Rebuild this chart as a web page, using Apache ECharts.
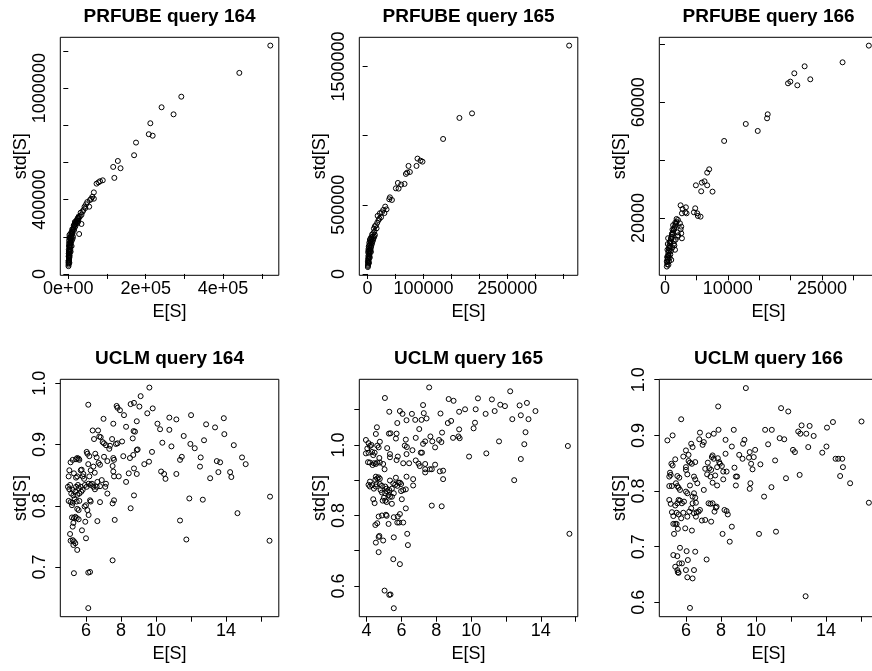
<!DOCTYPE html>
<html><head><meta charset="utf-8">
<script src="https://cdn.jsdelivr.net/npm/echarts@6/dist/echarts.min.js"></script>
<style>html,body{margin:0;padding:0;background:#fff}#c{width:872px;height:671px}</style>
</head><body><div id="c"></div>
<script>
const titles = ['PRFUBE query 164','PRFUBE query 165','PRFUBE query 166','UCLM query 164','UCLM query 165','UCLM query 166'];
const xName = 'E[S]';
const yName = 'std[S]';

const prfube164 = [[522000,1229000],[442000,1082000],[292000,954000],[241000,897000],[272000,859000],[212000,811000],[208000,752000],[218000,744000],[175000,707000],[170000,639000],[128000,608000],[116000,576000],[135000,569000],[119000,517000],[89000,504000],[82000,499000],[78000,493000],[73000,486000],[66000,439000],[66000,405000],[59000,404000],[56000,398000],[49000,387000],[54000,362000],[42000,362000],[39000,344000],[34000,318000],[30000,309000],[27000,300000],[34000,269000],[28000,215000],[22000,282000],[18000,255000],[15000,237000],[11000,219000],[62000,415000],[46000,375000],[44000,355000],[37000,335000],[32000,330000],[25000,295000],[24000,275000],[20000,268000],[26000,285000],
[500,42000],[700,50000],[900,57000],[1100,64000],[1300,72000],[1500,80000],[1700,88000],[1900,95000],[2100,103000],[2300,110000],[2600,118000],[2900,126000],[3200,133000],[3500,141000],[3900,149000],[4300,157000],[4800,165000],[5300,173000],[5900,181000],[6500,189000],[7200,197000],[8000,205000],[8800,212000],[9700,220000],[10600,228000],[11600,236000],[12700,243000],[13900,251000],[15200,259000],[16600,266000],[18100,273000],[19700,281000],[21400,288000],[23200,295000],[25100,302000],[27000,310000],
[800,95000],[1000,110000],[1200,130000],[1500,150000],[1800,165000],[2000,180000],[2500,195000],[3000,210000],[1400,75000],[2200,85000],[3500,100000],[4000,118000],[5000,132000],[6000,150000],[7000,168000],[9000,180000],[12000,200000],[600,70000],[900,62000],[1600,120000],[4500,190000],[5500,215000],[8000,225000],[10000,240000],[14000,262000],[17000,280000],[2800,60000],[3000,90000],[6000,120000],[8500,150000],[11000,190000]];

const prfube165 = [[360700,1651000],[186900,1161000],[164300,1128000],[135100,976000],[89300,834000],[87500,781000],[94600,819000],[98200,812000],[73200,781000],[75600,737000],[68500,723000],[70800,733000],[66100,651000],[60100,646000],[54200,658000],[50600,619000],[55400,617000],[39900,554000],[38700,540000],[43500,535000],[31500,487000],[33900,467000],[28000,463000],[25600,446000],[22000,439000],[19600,390000],[17300,371000],[14900,352000],[11300,328000],[10100,294000],[18000,420000],[24000,410000],[30000,440000],[13000,345000],[21000,400000],[16000,330000],
[400,50000],[600,58000],[800,66000],[1000,75000],[1200,84000],[1500,93000],[1800,102000],[2100,112000],[2500,122000],[2900,132000],[3300,143000],[3800,154000],[4300,165000],[4900,176000],[5500,187000],[6200,198000],[7000,210000],[7800,222000],[8700,234000],[9600,246000],[10600,258000],[11800,270000],[13000,282000],
[600,90000],[900,110000],[1300,130000],[1700,150000],[2200,170000],[2800,190000],[3500,205000],[4500,220000],[5500,235000],[7000,250000],[9000,270000],[1000,160000],[1500,180000],[2000,200000],[3000,225000],[4000,245000],[5000,255000],[6500,265000],[8000,285000],[12000,305000],[2500,80000],[4000,120000],[6000,160000]];

const prfube166 = [[32434,79597],[28254,73833],[22222,72450],[20582,70029],[19947,67147],[19577,66571],[21058,65879],[23122,67954],[16349,55850],[16243,54467],[12857,52507],[14762,50086],[9418,46628],[7037,36830],[6720,35677],[6296,32680],[5873,32219],[6720,31297],[4921,31297],[5767,29222],[7566,29107],[2487,24380],[2804,23112],[3333,23689],[3228,21960],[2698,21614],[3439,21614],[4815,23343],[4603,21960],[5132,21614],[5238,20692],[5661,20461],[1852,19654],[2063,19308],[1640,18386],[2381,18156],[2593,17003],[2487,16081],[2593,14697],[2698,12968],
[300,3200],[350,4000],[380,4800],[420,5600],[450,6400],[500,7200],[550,8000],[600,8800],[650,9600],[700,10400],[780,11200],[850,12000],[950,12800],[1050,13500],[1150,14200],[1250,14900],[1350,15600],[1450,16200],[1550,16800],[1650,17400],[1750,18000],[1850,18600],[2000,15000],[2100,14000],
[500,6000],[600,7000],[700,8500],[800,10000],[900,11500],[1000,13000],[1100,14500],[1200,16000],[1300,17500],[1400,12000],[1500,10500],[550,3800],[650,5000],[750,6200],[850,7400],[950,8600],[1200,9800],[1400,11000],[1700,12500],[2000,13500],[300,5000],[350,6500],[400,9000],[450,11000],[500,13000],[1000,5500],[1600,9000]];

const uclm164 = [[9.62,0.993],[6.13,0.965],[7.75,0.963],[7.80,0.960],[8.55,0.966],[8.74,0.968],[9.12,0.979],[7.94,0.956],[8.17,0.948],[9.05,0.962],[9.50,0.951],[9.81,0.959],[12.00,0.948],[10.76,0.944],[11.16,0.941],[7.00,0.942],[13.87,0.943],[6.38,0.923],[6.69,0.923],[7.56,0.934],[8.29,0.929],[8.90,0.938],[8.72,0.922],[10.08,0.934],[10.23,0.925],[10.76,0.924],[12.86,0.933],[13.37,0.928],[11.58,0.914],[12.74,0.907],[13.90,0.917],[10.36,0.903],[10.88,0.897],[11.96,0.901],[12.21,0.894],[14.44,0.899],[6.46,0.909],[6.76,0.913],[6.84,0.912],[6.95,0.904],[7.03,0.902],[7.14,0.899],[7.33,0.893],[7.37,0.898],[7.49,0.909],[7.71,0.901],[7.80,0.902],[8.06,0.905],[8.67,0.910],[8.80,0.921],[8.90,0.891],[8.95,0.892],[9.77,0.888],[6.04,0.888],[6.08,0.885],[6.19,0.881],[6.53,0.885],[6.61,0.879],[6.72,0.870],[6.80,0.867],[7.03,0.880],[7.22,0.873],[7.56,0.878],[7.60,0.875],[8.13,0.881],[8.51,0.878],[8.70,0.883],[9.60,0.872],[9.33,0.868],[11.47,0.880],[11.37,0.875],[12.55,0.879],[13.47,0.873],[13.66,0.871],[14.91,0.879],[15.12,0.868],[5.05,0.858],[5.12,0.871],[5.24,0.875],[5.43,0.876],[5.50,0.878],[5.58,0.877],[5.62,0.875],[5.01,0.848],[5.09,0.834],[4.97,0.831],[5.05,0.827],[5.31,0.853],[5.43,0.846],[5.50,0.848],[5.70,0.858],[5.81,0.848],[5.85,0.852],[5.75,0.859],[5.89,0.844],[6.19,0.848],[6.27,0.858],[6.13,0.868],[6.42,0.864],[6.50,0.854],[5.94,0.834],[6.04,0.831],[6.15,0.836],[6.27,0.834],[6.34,0.836],[6.42,0.831],[5.70,0.831],[5.58,0.829],[5.24,0.826],[5.16,0.820],[5.28,0.817],[5.39,0.823],[5.50,0.818],[5.62,0.820],[5.73,0.823],[5.81,0.826],[5.43,0.831],[5.54,0.834],[5.01,0.808],[5.12,0.806],[5.24,0.805],[5.35,0.811],[5.20,0.801],[5.47,0.807],[5.62,0.808],[5.50,0.795],[5.58,0.793],[5.92,0.799],[6.00,0.801],[6.23,0.809],[6.27,0.807],[6.08,0.793],[6.15,0.785],[5.96,0.774],[6.65,0.775],[5.20,0.781],[5.31,0.780],[5.39,0.782],[5.47,0.780],[5.58,0.778],[5.28,0.772],[5.24,0.766],[5.77,0.760],[5.09,0.754],[5.12,0.743],[5.24,0.744],[5.31,0.742],[5.28,0.736],[5.39,0.739],[5.50,0.728],[6.00,0.747],[5.31,0.690],[6.13,0.691],[6.23,0.692],[6.13,0.633],[7.52,0.711],[7.64,0.777],[7.52,0.804],[7.60,0.809],[6.80,0.806],[7.22,0.820],[7.10,0.831],[7.14,0.836],[6.80,0.832],[6.90,0.842],[6.65,0.839],[6.51,0.827],[6.61,0.831],[8.29,0.839],[8.44,0.853],[8.55,0.796],[8.74,0.817],[8.74,0.861],[8.90,0.852],[7.87,0.848],[7.56,0.856],[7.60,0.848],[7.52,0.865],[10.29,0.856],[10.46,0.852],[10.54,0.844],[11.16,0.852],[11.37,0.776],[11.73,0.745],[11.90,0.812],[12.67,0.810],[12.51,0.864],[13.09,0.845],[13.56,0.855],[14.23,0.855],[14.30,0.847],[14.65,0.788],[16.51,0.815],[16.48,0.743]];

const uclm165 = [[7.59,1.163],[5.05,1.133],[12.24,1.152],[8.71,1.130],[8.99,1.125],[10.39,1.132],[11.19,1.129],[11.67,1.114],[11.94,1.110],[13.20,1.119],[12.78,1.112],[7.24,1.113],[5.30,1.094],[5.91,1.096],[6.06,1.088],[6.60,1.088],[7.28,1.090],[8.24,1.089],[9.31,1.094],[9.65,1.101],[10.26,1.101],[10.83,1.088],[11.35,1.096],[13.69,1.096],[12.36,1.073],[12.85,1.084],[13.29,1.073],[5.76,1.062],[6.29,1.070],[6.79,1.071],[7.15,1.071],[7.44,1.075],[8.66,1.062],[8.85,1.068],[10.22,1.063],[10.14,1.047],[7.02,1.045],[4.59,1.050],[5.28,1.032],[5.37,1.033],[5.72,1.032],[4.53,1.031],[5.68,1.018],[6.25,1.015],[6.82,1.020],[7.66,1.024],[8.33,1.035],[8.96,1.020],[9.31,1.044],[9.27,1.024],[9.34,1.019],[13.12,1.036],[11.60,1.010],[13.05,1.002],[15.55,0.997],[7.77,1.010],[8.16,1.014],[8.29,1.008],[7.24,1.003],[7.36,1.010],[7.11,0.978],[7.18,0.978],[7.93,0.993],[6.19,0.998],[6.31,0.994],[6.63,0.985],[9.88,0.967],[10.87,0.976],[12.85,0.960],[12.47,0.900],[3.96,1.014],[4.11,1.005],[4.04,0.990],[4.19,0.997],[4.27,1.000],[4.61,0.998],[4.69,0.993],[4.76,1.009],[4.46,0.978],[4.38,0.971],[4.31,0.980],[4.11,0.978],[3.96,0.976],[4.73,0.963],[4.76,0.950],[4.08,0.951],[4.19,0.950],[4.34,0.943],[4.42,0.948],[4.53,0.946],[4.61,0.950],[4.95,0.946],[5.03,0.931],[5.18,0.991],[5.34,0.965],[5.34,0.974],[5.72,0.957],[5.79,0.967],[6.29,0.974],[6.10,0.948],[6.44,0.948],[6.82,0.956],[6.98,0.947],[7.05,0.940],[7.36,0.946],[7.36,0.931],[7.36,0.922],[7.63,0.931],[7.74,0.931],[7.93,0.944],[8.20,0.925],[8.39,0.927],[8.39,0.903],[6.29,0.910],[6.67,0.903],[6.67,0.885],[5.68,0.907],[5.83,0.893],[5.53,0.891],[5.64,0.887],[5.34,0.899],[5.07,0.882],[5.15,0.876],[5.30,0.872],[5.45,0.876],[5.07,0.863],[5.18,0.868],[5.26,0.858],[5.34,0.853],[4.99,0.850],[4.92,0.842],[5.07,0.842],[5.15,0.838],[5.45,0.853],[5.56,0.863],[5.98,0.869],[6.10,0.872],[6.25,0.874],[5.98,0.889],[5.91,0.893],[5.76,0.884],[5.45,0.833],[6.02,0.846],[6.25,0.820],[4.53,0.910],[4.61,0.905],[4.69,0.908],[4.76,0.904],[4.50,0.901],[4.57,0.889],[4.19,0.896],[4.11,0.887],[4.19,0.882],[4.31,0.886],[4.42,0.876],[4.53,0.882],[4.76,0.889],[4.88,0.884],[4.80,0.872],[4.88,0.865],[4.38,0.846],[4.46,0.835],[4.88,0.800],[4.69,0.797],[4.61,0.778],[4.50,0.773],[4.73,0.742],[4.69,0.739],[4.53,0.723],[4.95,0.729],[4.69,0.696],[5.11,0.802],[5.15,0.799],[5.26,0.776],[5.56,0.795],[5.56,0.738],[5.79,0.797],[5.91,0.804],[5.76,0.780],[5.87,0.780],[6.10,0.780],[6.33,0.748],[6.37,0.716],[5.53,0.676],[5.91,0.662],[5.03,0.587],[5.30,0.575],[5.37,0.576],[5.56,0.537],[7.74,0.828],[8.31,0.826],[15.64,0.748]];

const uclm166 = [[9.42,0.985],[7.84,0.952],[5.73,0.929],[11.43,0.949],[11.84,0.943],[16.02,0.925],[14.39,0.924],[14.05,0.914],[12.60,0.918],[13.06,0.917],[12.41,0.907],[12.53,0.903],[12.87,0.903],[13.29,0.899],[12.98,0.879],[11.35,0.895],[11.61,0.893],[12.11,0.874],[12.22,0.870],[13.78,0.869],[14.02,0.880],[14.54,0.858],[14.69,0.858],[14.92,0.858],[14.96,0.843],[14.80,0.827],[15.37,0.814],[16.44,0.779],[12.49,0.829],[11.71,0.823],[11.09,0.855],[10.88,0.807],[10.46,0.790],[10.25,0.848],[10.69,0.884],[10.52,0.910],[10.90,0.910],[10.17,0.723],[11.14,0.727],[12.83,0.611],[9.34,0.892],[9.26,0.885],[8.73,0.910],[8.62,0.880],[8.26,0.892],[9.04,0.865],[9.23,0.858],[9.64,0.870],[9.95,0.874],[9.87,0.861],[9.60,0.860],[9.72,0.849],[9.80,0.839],[8.77,0.842],[8.85,0.826],[8.92,0.826],[8.85,0.810],[9.68,0.814],[9.64,0.804],[8.62,0.736],[8.50,0.709],[8.09,0.723],[8.20,0.766],[8.32,0.764],[8.39,0.758],[8.26,0.867],[8.05,0.845],[8.13,0.835],[8.32,0.835],[7.94,0.849],[7.82,0.859],[7.90,0.852],[7.78,0.843],[8.13,0.821],[7.78,0.810],[7.86,0.910],[7.59,0.903],[7.29,0.900],[7.02,0.888],[6.95,0.883],[6.80,0.905],[6.76,0.893],[6.30,0.885],[6.38,0.879],[5.24,0.900],[4.94,0.891],[6.00,0.873],[6.15,0.865],[6.53,0.852],[6.15,0.854],[6.23,0.851],[6.34,0.849],[6.00,0.843],[5.85,0.862],[5.39,0.857],[5.17,0.849],[5.24,0.846],[5.09,0.833],[5.13,0.829],[5.05,0.826],[5.51,0.827],[5.62,0.824],[6.00,0.838],[6.08,0.830],[6.46,0.826],[6.53,0.821],[6.65,0.814],[6.23,0.810],[5.05,0.809],[5.20,0.809],[5.43,0.814],[5.51,0.809],[5.58,0.806],[5.66,0.802],[6.00,0.799],[6.08,0.796],[6.46,0.796],[6.38,0.790],[6.53,0.788],[7.02,0.802],[7.10,0.840],[7.21,0.830],[7.40,0.826],[7.33,0.841],[7.44,0.838],[7.48,0.861],[7.52,0.864],[7.59,0.858],[7.25,0.851],[7.67,0.828],[7.52,0.815],[5.05,0.784],[5.13,0.777],[5.20,0.762],[5.28,0.755],[5.39,0.774],[5.51,0.778],[5.58,0.784],[5.66,0.783],[5.77,0.778],[5.89,0.781],[5.47,0.761],[5.58,0.758],[5.73,0.751],[5.85,0.761],[6.08,0.754],[6.30,0.769],[6.19,0.763],[6.46,0.760],[6.57,0.754],[6.61,0.762],[6.38,0.778],[6.57,0.779],[6.72,0.763],[6.80,0.766],[7.29,0.778],[7.40,0.777],[7.52,0.778],[7.63,0.763],[7.71,0.770],[7.75,0.772],[7.44,0.745],[6.91,0.747],[7.10,0.748],[5.28,0.741],[5.39,0.741],[5.47,0.741],[5.54,0.732],[5.32,0.723],[5.96,0.733],[6.34,0.729],[5.66,0.698],[5.28,0.685],[5.51,0.683],[6.04,0.692],[6.53,0.691],[5.62,0.670],[5.77,0.670],[5.39,0.664],[5.51,0.658],[5.54,0.654],[5.58,0.653],[6.00,0.658],[6.11,0.676],[6.46,0.658],[6.08,0.645],[6.38,0.643],[7.18,0.677],[6.23,0.590]];

const xTicks = [[0,100000,200000,300000,400000,500000],[0,50000,100000,150000,200000,250000,300000,350000],[0,5000,10000,15000,20000,25000,30000],[6,8,10,12,14,16],[4,6,8,10,12,14,16],[6,8,10,12,14,16]];
const xLabelValues = [[0,200000,400000],[0,100000,250000],[0,10000,25000],[6,8,10,14],[4,6,8,10,14],[6,8,10,14]];
const xLabelText = [['0e+00','2e+05','4e+05'],['0','100000','250000'],['0','10000','25000'],['6','8','10','14'],['4','6','8','10','14'],['6','8','10','14']];
const yTicks = [[0,200000,400000,600000,800000,1000000,1200000],[0,500000,1000000,1500000],[20000,40000,60000,80000],[0.7,0.8,0.9,1.0],[0.6,0.7,0.8,0.9,1.0,1.1],[0.6,0.7,0.8,0.9,1.0]];
const yLabelValues = [[0,400000,1000000],[0,500000,1500000],[20000,60000],[0.7,0.8,0.9,1.0],[0.6,0.8,1.0],[0.6,0.7,0.8,0.9,1.0]];
const yLabelText = [['0','400000','1000000'],['0','500000','1500000'],['20000','60000'],['0.7','0.8','0.9','1.0'],['0.6','0.8','1.0'],['0.6','0.7','0.8','0.9','1.0']];
const xRange = [[-20690,543966],[-14881,376190],[-899,33862],[4.533,17.01],[3.58,16.12],[4.48,16.95]];
const yRange = [[-7175,1273543],[-9639,1710843],[173,82478],[0.619,1.0065],[0.513,1.186],[0.5742,1.0008]];

const panels = [prfube164, prfube165, prfube166, uclm164, uclm165, uclm166];

const FONT = '"Liberation Sans", Arial, Helvetica, sans-serif';
const boxLeft = [60.3, 359.3, 659.3];
const boxTop = [37.3, 379.3];
const boxW = 218.5;
const boxH = [238, 237.4];

function lookup(vals, texts) {
  return function (v) {
    for (let i = 0; i < vals.length; i++) {
      if (Math.abs(vals[i] - v) <= 1e-9 * Math.max(1, Math.abs(v))) return texts[i];
    }
    return '';
  };
}

const grid = [], xAxis = [], yAxis = [], series = [], title = [];
for (let i = 0; i < 6; i++) {
  const col = i % 3, row = Math.floor(i / 3);
  grid.push({
    left: boxLeft[col], top: boxTop[row], width: boxW, height: boxH[row],
    show: true, borderColor: '#000', borderWidth: 1, backgroundColor: 'transparent',
    containLabel: false, outerBoundsMode: 'none'
  });
  title.push({
    text: titles[i], left: boxLeft[col] + boxW / 2, top: boxTop[row] - 30.3, textAlign: 'center', padding: 0,
    textStyle: { fontFamily: FONT, fontSize: 19, fontWeight: 'bold', color: '#000' }
  });
  xAxis.push({
    gridIndex: i, type: 'value', min: xRange[i][0], max: xRange[i][1],
    axisLine: { show: false },
    axisTick: { show: true, customValues: xTicks[i], length: 5, inside: false, lineStyle: { color: '#000', width: 1 } },
    axisLabel: { show: true, customValues: xLabelValues[i], formatter: lookup(xLabelValues[i], xLabelText[i]),
      fontFamily: FONT, fontSize: 18, color: '#000', margin: 5 },
    splitLine: { show: false },
    name: xName, nameLocation: 'middle', nameGap: 28,
    nameTextStyle: { fontFamily: FONT, fontSize: 18, color: '#000' }
  });
  yAxis.push({
    gridIndex: i, type: 'value', min: yRange[i][0], max: yRange[i][1],
    axisLine: { show: false },
    axisTick: { show: true, customValues: yTicks[i], length: 5, inside: false, lineStyle: { color: '#000', width: 1 } },
    axisLabel: { show: true, customValues: yLabelValues[i], formatter: lookup(yLabelValues[i], yLabelText[i]),
      rotate: 90, fontFamily: FONT, fontSize: 18, color: '#000', margin: 11 },
    splitLine: { show: false },
    name: yName, nameLocation: 'middle', nameGap: 27,
    nameTextStyle: { fontFamily: FONT, fontSize: 18, color: '#000' }
  });
  series.push({
    type: 'scatter', xAxisIndex: i, yAxisIndex: i, data: panels[i],
    symbol: 'circle', symbolSize: 5,
    itemStyle: { color: 'transparent', borderColor: '#000', borderWidth: 1, opacity: 1 },
    emphasis: { disabled: true }, silent: true, clip: false
  });
}

const chart = echarts.init(document.getElementById('c'), null, { renderer: 'canvas', width: 872, height: 671 });
chart.setOption({
  animation: false, backgroundColor: '#fff',
  title, grid, xAxis, yAxis, series
});
</script></body></html>
